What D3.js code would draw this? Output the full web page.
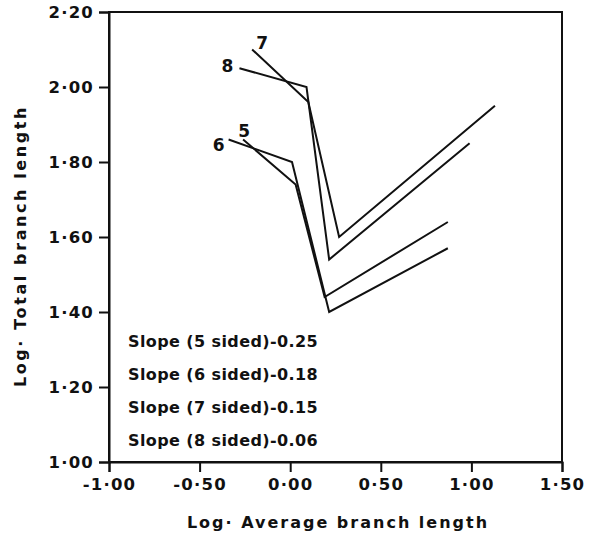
<!DOCTYPE html>
<html>
<head>
<meta charset="utf-8">
<script src="https://cdn.jsdelivr.net/npm/d3@7"></script>
<style>
  body { margin: 0; background: #fff; }
  text { font-family: "DejaVu Sans", sans-serif; font-weight: bold; fill: #111; }
</style>
</head>
<body>
<div id="chart"></div>
<script>
// log average branch length (x) and log total branch length (y) for each polygon type
const avg5 = [-0.26, 0.03, 0.19, 0.87];
const total5 = [1.86, 1.74, 1.44, 1.64];
const avg6 = [-0.34, 0.01, 0.215, 0.87];
const total6 = [1.86, 1.80, 1.40, 1.57];
const avg7 = [-0.21, 0.10, 0.27, 1.13];
const total7 = [2.10, 1.96, 1.60, 1.95];
const avg8 = [-0.28, 0.09, 0.215, 0.99];
const total8 = [2.05, 2.00, 1.54, 1.85];

const seriesNames = ['5', '6', '7', '8'];
const slopeLabels = ['Slope (5 sided)-0.25', 'Slope (6 sided)-0.18', 'Slope (7 sided)-0.15', 'Slope (8 sided)-0.06'];

const xTicks = [-1.00, -0.50, 0.00, 0.50, 1.00, 1.50];
const yTicks = [1.00, 1.20, 1.40, 1.60, 1.80, 2.00, 2.20];

const width = 599;
const height = 537;
const svg = d3.select('#chart').append('svg')
  .attr('width', width)
  .attr('height', height);

const scaleX = d3.scaleLinear().domain([-1, 1.5]).range([109, 562]);
const scaleY = d3.scaleLinear().domain([1, 2.2]).range([462, 12]);

const fmt = d => d3.format('.2f')(d).replace('.', '·').replace('−', '-');

// frame
svg.append('rect')
  .attr('x', scaleX(-1)).attr('y', scaleY(2.2))
  .attr('width', scaleX(1.5) - scaleX(-1))
  .attr('height', scaleY(1) - scaleY(2.2))
  .attr('fill', 'none').attr('stroke', '#111').attr('stroke-width', 2);

const axisX = d3.axisBottom(scaleX).tickValues(xTicks).tickFormat(fmt).tickSize(10).tickPadding(6);
const gx = svg.append('g')
  .attr('transform', `translate(0, ${scaleY(1)})`)
  .call(axisX);

const axisY = d3.axisLeft(scaleY).tickValues(yTicks).tickFormat(fmt).tickSize(10).tickPadding(5);
const gy = svg.append('g')
  .attr('transform', `translate(${scaleX(-1)}, 0)`)
  .call(axisY);

[gx, gy].forEach(g => {
  g.select('.domain').attr('stroke', '#111').attr('stroke-width', 2);
  g.selectAll('.tick line').attr('stroke', '#111').attr('stroke-width', 2);
  g.selectAll('.tick text')
    .attr('font-family', '"DejaVu Sans", sans-serif')
    .attr('font-weight', 'bold')
    .attr('font-size', 16.5)
    .attr('letter-spacing', 1.2)
    .attr('fill', '#111');
});

// lines
const line = d3.line()
  .x(d => scaleX(d[0]))
  .y(d => scaleY(d[1]));

const allSeries = [
  d3.zip(avg5, total5),
  d3.zip(avg6, total6),
  d3.zip(avg7, total7),
  d3.zip(avg8, total8),
];

svg.append('g').selectAll('path')
  .data(allSeries)
  .join('path')
  .attr('fill', 'none')
  .attr('stroke', '#111')
  .attr('stroke-width', 2)
  .attr('stroke-linejoin', 'miter')
  .attr('d', line);

// series number labels near the start of each line
const labelOffsets = [[1, -9], [-10, 5], [10, -7], [-12, -2]];
svg.append('g').selectAll('text')
  .data(allSeries)
  .join('text')
  .attr('x', (d, i) => scaleX(d[0][0]) + labelOffsets[i][0])
  .attr('y', (d, i) => scaleY(d[0][1]) + labelOffsets[i][1])
  .attr('text-anchor', 'middle')
  .attr('dominant-baseline', 'central')
  .attr('font-size', 17)
  .text((d, i) => seriesNames[i]);

// slope annotations
svg.append('g').selectAll('text')
  .data(slopeLabels)
  .join('text')
  .attr('x', 128)
  .attr('y', (d, i) => 341 + i * 33)
  .attr('dominant-baseline', 'central')
  .attr('font-size', 16)
  .attr('letter-spacing', 0.4)
  .text(d => d);

// axis titles
svg.append('text')
  .attr('x', 338).attr('y', 522)
  .attr('text-anchor', 'middle')
  .attr('dominant-baseline', 'central')
  .attr('font-size', 16)
  .attr('letter-spacing', 2)
  .text('Log· Average branch length');

svg.append('text')
  .attr('transform', 'translate(20, 246) rotate(-90)')
  .attr('text-anchor', 'middle')
  .attr('dominant-baseline', 'central')
  .attr('font-size', 16)
  .attr('letter-spacing', 2.6)
  .text('Log· Total branch length');
</script>
</body>
</html>
